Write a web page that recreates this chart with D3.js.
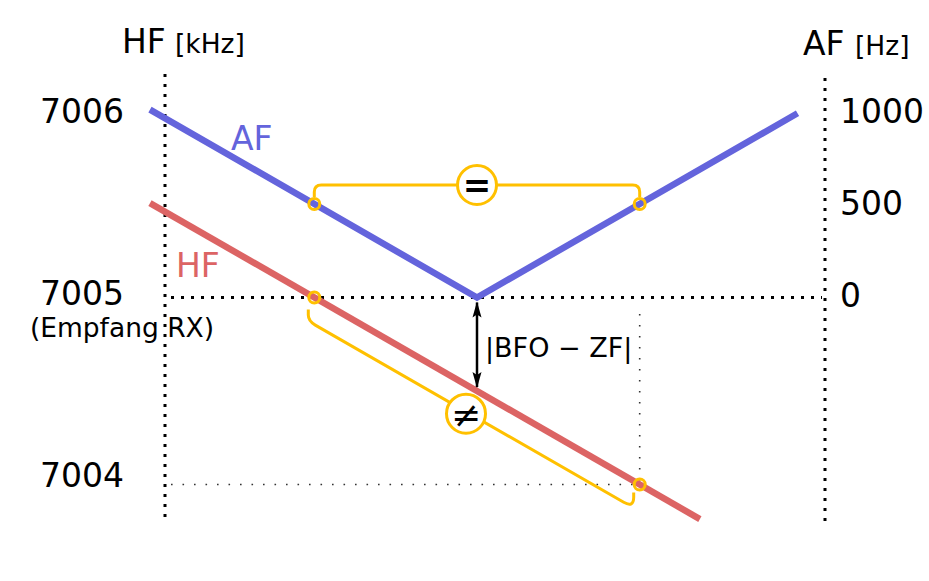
<!DOCTYPE html>
<html>
<head>
<meta charset="utf-8">
<script src="https://cdn.jsdelivr.net/npm/d3@7/dist/d3.min.js"></script>
<style>
  html, body { margin: 0; padding: 0; background: #fff; }
  svg { display: block; font-family: "DejaVu Sans", sans-serif; }
</style>
</head>
<body>
<svg id="chart" width="929" height="581"></svg>
<script>
// ---- data ----
// tuning offset (kHz) relative to zero beat
const afTuning = [-1.005, 0, 0.985];
const afValues = [1005, 0, 985];          // AF in Hz
const hfTuning = [-1.005, 0.685];
const hfValues = [7005.505, 7003.815];    // HF in kHz
const markerTuning = [-0.5, 0.5];
const afMarkerValues = [500, 500];
const hfMarkerValues = [7005, 7004];
const hfTicks = [7006, 7005, 7004];
const afTicks = [1000, 500, 0];
const hfTickLabels = ["7006", "7005", "7004"];
const afTickLabels = ["1000", "500", "0"];

// ---- colours ----
const blue = "#6464dc", red = "#dc6464", gold = "#ffc000";

const svg = d3.select("#chart");

const x = d3.scaleLinear().domain([-1, 1]).range([151.6, 802.4]);
const yL = d3.scaleLinear().domain([7004, 7006]).range([484.5, 110.5]);
const yR = d3.scaleLinear().domain([0, 1000]).range([297.5, 110.5]);
const yLLabel = d3.scaleLinear().domain([7004, 7006]).range([487, 123]);
const yRLabel = d3.scaleLinear().domain([0, 1000]).range([307, 123]);

const leftAxisX = 165, rightAxisX = 825;
const bigFont = 33, smallFont = 26.5;

// ---- dotted axes ----
svg.append("line").attr("x1", leftAxisX).attr("x2", leftAxisX)
  .attr("y1", 74).attr("y2", 521)
  .attr("stroke", "#000").attr("stroke-width", 3).attr("stroke-dasharray", "3,7");
svg.append("line").attr("x1", rightAxisX).attr("x2", rightAxisX)
  .attr("y1", 78).attr("y2", 525)
  .attr("stroke", "#000").attr("stroke-width", 3).attr("stroke-dasharray", "3,7");

// horizontal dotted at AF 0 / HF 7005
svg.append("line").attr("x1", 171).attr("x2", 822)
  .attr("y1", yR(0)).attr("y2", yR(0))
  .attr("stroke", "#000").attr("stroke-width", 3).attr("stroke-dasharray", "3,7");

// thin dotted lines to the 7004 point
svg.append("line").attr("x1", 171).attr("x2", x(markerTuning[1]))
  .attr("y1", yL(hfMarkerValues[1])).attr("y2", yL(hfMarkerValues[1]))
  .attr("stroke", "#333").attr("stroke-width", 1.6).attr("stroke-dasharray", "1.6,9.9");
svg.append("line").attr("x1", x(markerTuning[1])).attr("x2", x(markerTuning[1]))
  .attr("y1", 314).attr("y2", yL(hfMarkerValues[1]))
  .attr("stroke", "#333").attr("stroke-width", 1.6).attr("stroke-dasharray", "1.6,9.4");

// ---- lines ----
const afLine = d3.line().x((d, i) => x(afTuning[i])).y(d => yR(d));
svg.append("path").attr("d", afLine(afValues))
  .attr("fill", "none").attr("stroke", blue).attr("stroke-width", 6.5)
  .attr("stroke-linejoin", "miter");
const hfLine = d3.line().x((d, i) => x(hfTuning[i])).y(d => yL(d));
svg.append("path").attr("d", hfLine(hfValues))
  .attr("fill", "none").attr("stroke", red).attr("stroke-width", 6.5);

// ---- "=" bracket ----
const ax1 = x(markerTuning[0]), ay1 = yR(afMarkerValues[0]);
const ax2 = x(markerTuning[1]), ay2 = yR(afMarkerValues[1]);
const yb = 185, rc = 7;
svg.append("path")
  .attr("d", `M${ax1},${ay1 - 7} L${ax1},${yb + rc} Q${ax1},${yb} ${ax1 + rc},${yb} L${ax2 - rc},${yb} Q${ax2},${yb} ${ax2},${yb + rc} L${ax2},${ay2 - 7}`)
  .attr("fill", "none").attr("stroke", gold).attr("stroke-width", 3);
const eqX = (ax1 + ax2) / 2;
svg.append("circle").attr("cx", eqX).attr("cy", yb).attr("r", 19.5)
  .attr("fill", "#fff").attr("stroke", gold).attr("stroke-width", 3);
svg.append("text").attr("x", eqX).attr("y", yb).attr("dy", "0.36em")
  .attr("text-anchor", "middle").attr("font-size", 34).attr("font-weight", "bold").text("=");

// ---- "≠" bracket (parallel to HF line) ----
const hx1 = x(hfTuning[0]), hy1 = yL(hfValues[0]);
const hx2 = x(hfTuning[1]), hy2 = yL(hfValues[1]);
const slope = (hy2 - hy1) / (hx2 - hx1);
const hfY = px => hy1 + slope * (px - hx1);
const off = 27;
const dY = px => hfY(px) + off;
const mx1 = x(markerTuning[0]), my1 = yL(hfMarkerValues[0]);
const mx2 = x(markerTuning[1]), my2 = yL(hfMarkerValues[1]);
const bL = mx1 - 6, bR = mx2 - 6;
svg.append("path")
  .attr("d", `M${bL},${my1 + 12} L${bL},${dY(bL) - 6} Q${bL},${dY(bL)} ${bL + 7},${dY(bL + 7)} ` +
             `L${bR - 10},${dY(bR - 10)} Q${bR},${dY(bR)} ${bR},${dY(bR) - 11} L${bR},${my2 + 8}`)
  .attr("fill", "none").attr("stroke", gold).attr("stroke-width", 3).attr("stroke-linejoin", "round");
const neX = (bL + bR) / 2 - 5;
svg.append("circle").attr("cx", neX).attr("cy", dY(neX) + 2).attr("r", 19.5)
  .attr("fill", "#fff").attr("stroke", gold).attr("stroke-width", 3);
svg.append("text").attr("x", neX).attr("y", dY(neX) + 2).attr("dy", "0.36em")
  .attr("text-anchor", "middle").attr("font-size", 36).text("≠");

// ---- markers ----
svg.selectAll("circle.afm").data(afMarkerValues).enter().append("circle")
  .attr("class", "afm")
  .attr("cx", (d, i) => x(markerTuning[i])).attr("cy", d => yR(d)).attr("r", 5.5)
  .attr("fill", "none").attr("stroke", gold).attr("stroke-width", 3);
svg.selectAll("circle.hfm").data(hfMarkerValues).enter().append("circle")
  .attr("class", "hfm")
  .attr("cx", (d, i) => x(markerTuning[i])).attr("cy", d => yL(d)).attr("r", 5.5)
  .attr("fill", "none").attr("stroke", gold).attr("stroke-width", 3);

// ---- double arrow |BFO - ZF| ----
const defs = svg.append("defs");
defs.append("marker").attr("id", "ah").attr("viewBox", "0 0 16 10")
  .attr("refX", 15).attr("refY", 5).attr("markerWidth", 16).attr("markerHeight", 10)
  .attr("markerUnits", "userSpaceOnUse").attr("orient", "auto-start-reverse")
  .append("path").attr("d", "M0,0.5 L16,5 L0,9.5 L3,5 Z").attr("fill", "#000");
const arrowX = x(0);
svg.append("line").attr("x1", arrowX).attr("x2", arrowX)
  .attr("y1", yR(0) + 5).attr("y2", hfY(arrowX) - 4)
  .attr("stroke", "#000").attr("stroke-width", 2.5)
  .attr("marker-start", "url(#ah)").attr("marker-end", "url(#ah)");
svg.append("text").attr("x", arrowX + 8).attr("y", 357)
  .attr("font-size", 27).attr("fill", "#000").text("|BFO − ZF|");

// ---- tick labels ----
svg.selectAll("text.hft").data(hfTicks).enter().append("text")
  .attr("class", "hft").attr("x", 124).attr("y", d => yLLabel(d))
  .attr("text-anchor", "end").attr("font-size", bigFont)
  .text((d, i) => hfTickLabels[i]);
svg.append("text").attr("x", 122).attr("y", 337).attr("text-anchor", "middle")
  .attr("font-size", smallFont).text("(Empfang RX)");
svg.selectAll("text.aft").data(afTicks).enter().append("text")
  .attr("class", "aft").attr("x", 840).attr("y", d => yRLabel(d))
  .attr("text-anchor", "start").attr("font-size", bigFont)
  .text((d, i) => afTickLabels[i]);

// ---- axis titles ----
svg.append("text").attr("x", 122).attr("y", 53).attr("font-size", bigFont).text("HF");
svg.append("text").attr("x", 175).attr("y", 53).attr("font-size", smallFont).text("[kHz]");
svg.append("text").attr("x", 803).attr("y", 55).attr("font-size", bigFont).text("AF");
svg.append("text").attr("x", 855).attr("y", 55).attr("font-size", smallFont).text("[Hz]");

// ---- line labels ----
svg.append("text").attr("x", 231).attr("y", 150).attr("font-size", bigFont).attr("fill", blue).text("AF");
svg.append("text").attr("x", 176).attr("y", 277).attr("font-size", bigFont).attr("fill", red).text("HF");
</script>
</body>
</html>
